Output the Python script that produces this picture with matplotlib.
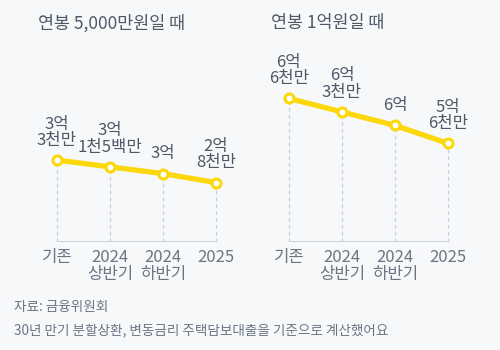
import matplotlib
matplotlib.use("Agg")
import matplotlib.pyplot as plt

plt.rcParams['font.family'] = ['Noto Sans CJK KR', 'DejaVu Sans']

# 대출 한도 (억 원)
periods = ["기존", "2024\n상반기", "2024\n하반기", "2025"]
limit_50m = [3.3, 3.15, 3.0, 2.8]
limit_100m = [6.6, 6.3, 6.0, 5.6]
labels_50m = ["3억\n3천만", "3억\n1천5백만", "3억", "2억\n8천만"]
labels_100m = ["6억\n6천만", "6억\n3천만", "6억", "5억\n6천만"]
titles = ["연봉 5,000만원일 때", "연봉 1억원일 때"]

bg = '#f7f8fa'
yellow = '#fcd70a'
grid_c = '#c9ced6'
text_c = '#4e5968'
tick_c = '#6b7684'

W, H = 500, 350
fig = plt.figure(figsize=(5, 3.5), dpi=100, facecolor=bg)


def panel(left_px, base, values, labels, title):
    ax = fig.add_axes([left_px / W, 108 / H, 191 / W, 180 / H])
    ax.set_facecolor(bg)
    xs = range(len(values))
    ax.set_xlim(-0.3, 3.3)
    ax.set_ylim(base, base + 4.0)
    ax.hlines(base, 0, len(values) - 1, color=grid_c, lw=1.3, zorder=1)
    ax.vlines(xs, base, values, color=grid_c, lw=0.9,
              linestyles=(0, (3, 2.5)), zorder=1)
    ax.plot(xs, values, color=yellow, lw=3.8, solid_capstyle='round', zorder=2)
    ax.plot(xs, values, 'o', ms=6.5, mfc='white', mec=yellow, mew=2.2, zorder=3)
    for x, v, t in zip(xs, values, labels):
        ax.annotate(t, (x, v), xytext=(0, 8), textcoords='offset points',
                    ha='center', va='bottom', fontsize=12, color=text_c,
                    linespacing=0.95)
    ax.set_xticks(list(xs))
    ax.set_xticklabels(periods, fontsize=12, color=tick_c, linespacing=1.0)
    ax.tick_params(axis='x', length=0, pad=5)
    ax.set_yticks([])
    for s in ax.spines.values():
        s.set_visible(False)
    return ax


panel(41, 1.48, limit_50m, labels_50m, titles[0])
panel(273, 3.41, limit_100m, labels_100m, titles[1])

fig.text(38 / W, 1 - 23 / H, titles[0], fontsize=12.5, color=text_c, va='center')
fig.text(271 / W, 1 - 23 / H, titles[1], fontsize=12.5, color=text_c, va='center')

fig.text(14 / W, 1 - 307 / H, "자료: 금융위원회", fontsize=9.8, color=tick_c, va='center')
fig.text(14 / W, 1 - 330 / H, "30년 만기 분할상환, 변동금리 주택담보대출을 기준으로 계산했어요",
         fontsize=9.8, color=tick_c, va='center')

fig.savefig("out.png", dpi=100, facecolor=bg)
